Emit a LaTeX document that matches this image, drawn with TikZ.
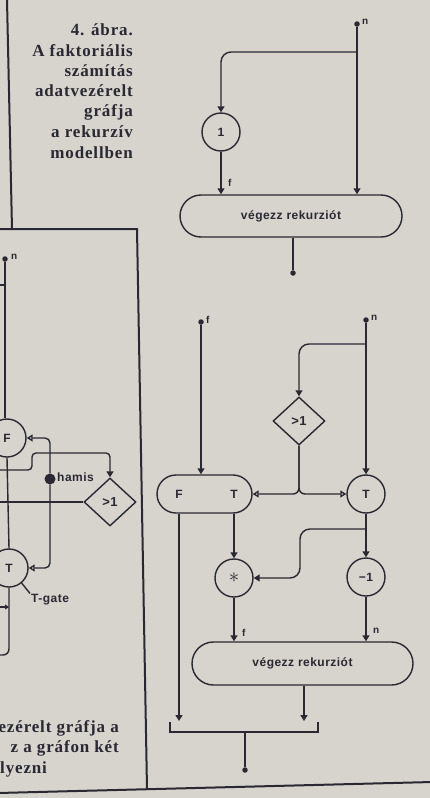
\documentclass[tikz,border=0pt]{standalone}
\usepackage{fontspec}
\setmainfont{Liberation Serif}
\setsansfont{Liberation Sans}
\newfontfamily\capfont[LetterSpace=5]{Liberation Serif}
\newfontfamily\labfont[LetterSpace=4]{Liberation Sans}
\usetikzlibrary{arrows.meta,shapes.geometric,shapes.misc}
\definecolor{paper}{RGB}{214,212,205}
\definecolor{ink}{RGB}{42,40,50}
\begin{document}
\begin{tikzpicture}[x=1pt,y=-1pt,
  ln/.style={draw=ink, line width=1.4pt},
  arr/.style={ln, -{Triangle[width=7pt,length=6pt]}},
  sarr/.style={ln, -{Triangle[width=5pt,length=4pt]}},
  oarr/.style={ln, -{Triangle[open,width=7pt,length=6pt,fill=paper]}},
  circ/.style={circle, draw=ink, line width=1.4pt, minimum size=38pt, inner sep=0pt, text=ink, font=\labfont\bfseries\fontsize{12}{14}\selectfont},
  blk/.style={rounded rectangle, draw=ink, line width=1.4pt, inner sep=0pt, text=ink, font=\labfont\bfseries\fontsize{12}{14}\selectfont},
  dia/.style={diamond, draw=ink, line width=1.4pt, minimum width=52pt, minimum height=48pt, inner sep=0pt, text=ink, font=\labfont\bfseries\fontsize{13}{15}\selectfont},
  indot/.style={circle, fill=ink, inner sep=0pt, minimum size=5.5pt},
  bigdot/.style={circle, fill=ink, inner sep=0pt, minimum size=11pt},
  lab/.style={text=ink, inner sep=1pt, font=\labfont\bfseries\fontsize{10}{12}\selectfont},
  mlab/.style={text=ink, inner sep=1pt, font=\labfont\bfseries\fontsize{12}{14}\selectfont},
  captxt/.style={text=ink, inner sep=0pt, anchor=base east, font=\capfont\bfseries\fontsize{17}{20}\selectfont},
  frameline/.style={draw=ink, line width=2pt}]
\fill[paper] (0,0) rectangle (430,798);
\useasboundingbox (0,0) rectangle (430,798);

% frames
\draw[frameline] (7,0) -- (12,229);
\draw[frameline] (-2,229) -- (137,229) -- (147,789);
\draw[frameline] (-2,793) -- (432,782);

% caption
\node[captxt] (c1) at (133,35) {4. ábra.};
\node[captxt] (c2) at (133,56) {A faktoriális};
\node[captxt] (c3) at (133,76) {számítás};
\node[captxt] (c4) at (133,96) {adatvezérelt};
\node[captxt] (c5) at (133,116) {gráfja};
\node[captxt] (c6) at (133,137) {a rekurzív};
\node[captxt] (c7) at (133,158) {modellben};

\node[captxt] (d1) at (119,732) {ezérelt gráfja a};
\node[captxt] (d2) at (119,752) {z a gráfon két};
\node[captxt, anchor=base west] (d3) at (0,773) {lyezni};

% ---------- top right ----------
\node[indot] (n1) at (357,24) {};
\node[lab, anchor=west] (n1l) at (361,22) {n};
\node[circ] (one) at (221,132) {1};
\node[blk, minimum width=222pt, minimum height=42pt] (b1) at (291,216) {végezz rekurziót};
\node[indot] (o1) at (293,273) {};
\coordinate (j1) at (357,52);
\draw[arr] (n1) -- (n1 |- b1.north);
\draw[arr, rounded corners=10] (j1) -| (one.north);
\draw[arr] (one) -- (one |- b1.north);
\node[lab, anchor=west] (f1l) at (227,183) {f};
\draw[ln] (b1.south -| o1) -- (o1);

% ---------- bottom right ----------
\node[indot] (f2) at (201,322) {};
\node[lab, anchor=west] (f2l) at (205,320) {f};
\node[indot] (n2) at (366,320) {};
\node[lab, anchor=west] (n2l) at (370,318) {n};
\node[dia] (gt2) at (299,421) {>1};
\node[blk, minimum width=95pt, minimum height=38pt] (ft) at (204.5,494) {};
\node[mlab] (ftF) at (179,494) {F};
\node[mlab] (ftT) at (234,494) {T};
\node[circ] (tg2) at (366,494) {T};
\node[circ, font=\fontsize{22}{22}\selectfont] (mul) at (234,578) {$\ast$};
\node[circ] (dec) at (366,577) {−1};
\node[blk, minimum width=221pt, minimum height=43pt] (b2) at (302.5,663.5) {végezz rekurziót};
\coordinate (j2) at (366,344);
\coordinate (j3) at (366,529);
\coordinate (k3) at (300,578);
\coordinate (brL) at (179,721);
\coordinate (brR) at (304,721);
\coordinate (brC) at (245,732);
\node[indot] (o2) at (245,770) {};

\draw[arr] (f2) -- (f2 |- ft.north);
\draw[arr] (n2) -- (tg2.north);
\draw[arr, rounded corners=10] (j2) -| (gt2.north);
\draw[oarr, rounded corners=6] (gt2.south) |- (ft.east);
\draw[oarr, rounded corners=6] (gt2.south) |- (tg2.west);
\draw[arr] (ftF |- ft.south) -- (brL);
\draw[arr] (ftT |- ft.south) -- (mul.north);
\draw[arr] (tg2.south) -- (dec.north);
\draw[arr, rounded corners=10] (j3) -| (k3) -- (mul.east);
\draw[arr] (mul.south) -- (mul |- b2.north);
\node[lab, anchor=west] (f3l) at (241,633) {f};
\draw[arr] (dec.south) -- (dec |- b2.north);
\node[lab, anchor=west] (n3l) at (372,631) {n};
\draw[arr] (b2.south -| brR) -- (brR);
\draw[ln] (170,722) -- (170,732) -- (318,732) -- (318,722);
\draw[ln] (brC) -- (o2);

% ---------- left (partial) ----------
\node[indot] (n3) at (5,259) {};
\node[lab, anchor=west] (n4l) at (10,257) {n};
\node[circ] (fL) at (7,438) {F};
\node[circ] (tL) at (9,568) {T};
\node[bigdot] (hm) at (50,479) {};
\node[mlab, anchor=west] (hml) at (56,477) {hamis};
\node[dia] (gtL) at (110,502) {>1};
\node[mlab, anchor=west] (tgate) at (30,600) {T-gate};
\coordinate (s3) at (5,285);
\coordinate (s4) at (-5,285);
\coordinate (a1) at (-5,470);
\coordinate (a2) at (32,453);
\coordinate (a3) at (-5,502);
\coordinate (a4) at (-5,655);
\coordinate (a5) at (-5,607);
\draw[ln] (n3) -- (n3 |- fL.north);
\draw[ln] (s3) -- (s4);
\draw[ln] (fL.south) -- (tL.north);
\draw[oarr, rounded corners=5] (hm) |- (fL.east);
\draw[oarr, rounded corners=5] (hm) |- (tL.east);
\draw[arr, rounded corners=4] (a1) -| (a2) -| (gtL.north);
\draw[ln] (gtL.west) -- (a3);
\draw[ln, rounded corners=6] (tL.south) |- (a4);
\draw[sarr] (a5) -- (tL.south |- a5);
\draw[ln] (tL.-50) -- (tgate.north west);
\end{tikzpicture}
\end{document}
